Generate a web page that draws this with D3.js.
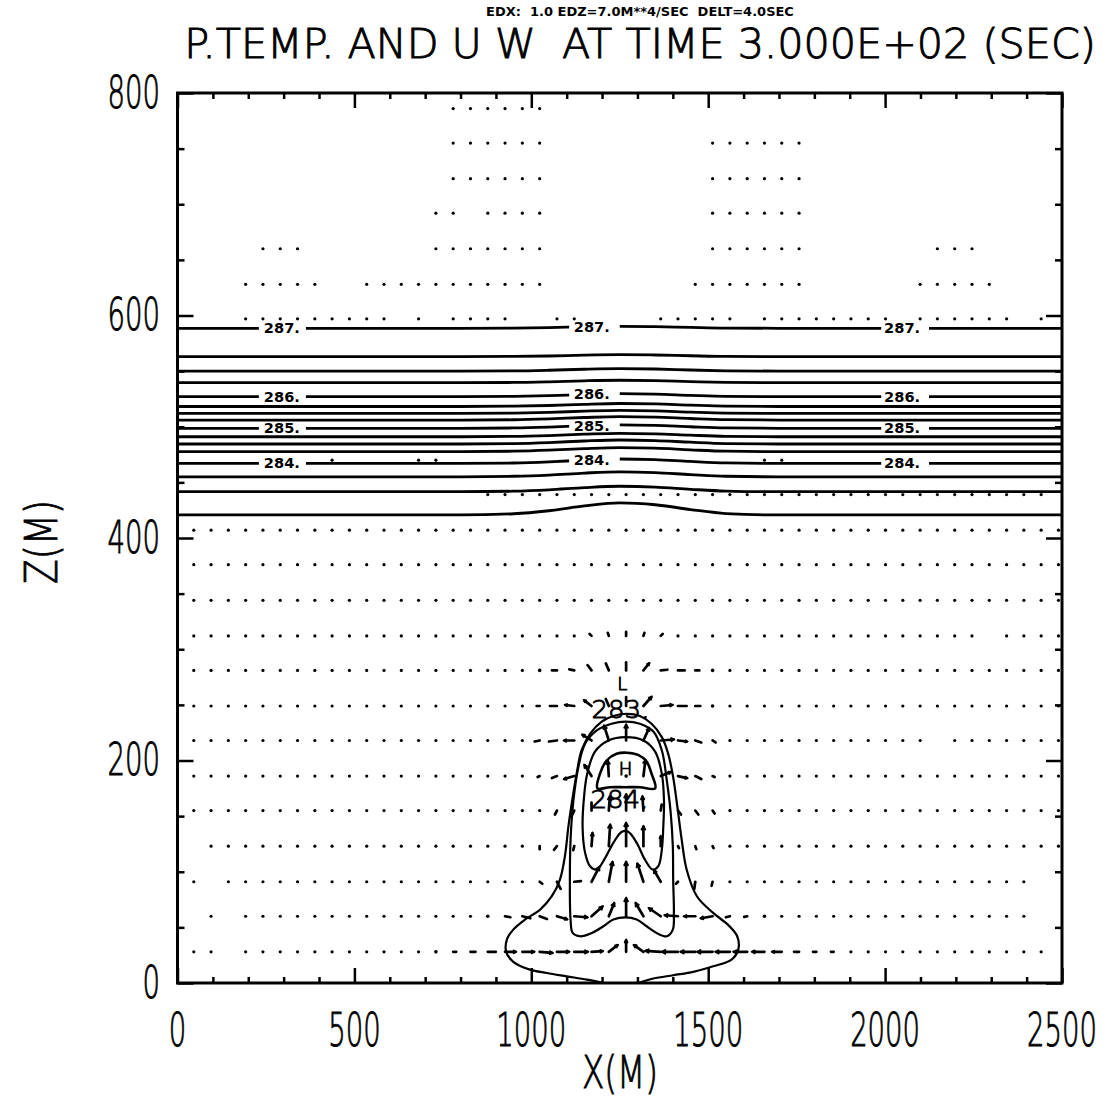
<!DOCTYPE html>
<html>
<head>
<meta charset="utf-8">
<script src="https://cdn.jsdelivr.net/npm/d3@7"></script>
<style>
  html, body { margin: 0; padding: 0; background: #fff; }
  svg { display: block; }
  text { font-family: "DejaVu Sans", sans-serif; fill: #000; white-space: pre; }
  text.stroke-font { font-weight: 300; stroke: #000; stroke-width: 0.9px; }
</style>
</head>
<body>
<svg id="chart" width="1116" height="1099"></svg>
<script>
// ---------------------------------------------------------------
// Potential temperature contours and (u, w) wind vectors, t = 300 s
// ---------------------------------------------------------------

const TITLE = "P.TEMP. AND U W  AT TIME 3.000E+02 (SEC)";
const SUBTITLE = "EDX:  1.0 EDZ=7.0M**4/SEC  DELT=4.0SEC";
const X_LABEL = "X(M)";
const Z_LABEL = "Z(M)";

const xTickLabels = [0, 500, 1000, 1500, 2000, 2500];
const zTickLabels = [0, 200, 400, 600, 800];
const xMinorTicks = [100, 200, 300, 400, 600, 700, 800, 900, 1100, 1200, 1300, 1400,
                     1600, 1700, 1800, 1900, 2100, 2200, 2300, 2400];
const zMinorTicks = [50, 100, 150, 250, 300, 350, 450, 500, 550, 650, 700, 750];

// model grid (m)
const gridX = [46.0, 94.9, 143.8, 192.6, 241.5, 290.4, 339.3, 388.2, 437.0, 485.9,
               534.8, 583.7, 632.6, 681.4, 730.3, 779.2, 828.1, 877.0, 925.8, 974.7,
               1023.6, 1072.5, 1121.4, 1170.2, 1219.1, 1268.0, 1316.9, 1365.8, 1414.6, 1463.5,
               1512.4, 1561.3, 1610.2, 1659.0, 1707.9, 1756.8, 1805.7, 1854.6, 1903.4, 1952.3,
               2001.2, 2050.1, 2099.0, 2147.8, 2196.7, 2245.6, 2294.5, 2343.4, 2392.2, 2441.1,
               2490.0];
const gridZ = [28, 60, 91, 123, 155, 186, 218, 249, 281, 312, 344, 376, 407,
               439, 470, 502, 534, 565, 597, 628, 660, 692, 723, 755, 786];

// rows 0..12: every point plotted except these columns
const missingLow = { 0: [2, 50], 1: [0, 2, 49, 50], 2: [1, 49, 50], 3: [0], 6: [43], 9: [46] };
// rows 13..24: column ranges that carry a (tiny) vector
const presentHigh = {
  13: [[17, 49]],
  14: [[8, 8], [13, 14], [33, 34]],
  18: [[3, 11], [13, 13], [15, 18], [21, 22], [27, 31], [33, 40], [42, 47], [49, 49]],
  19: [[3, 7], [10, 20], [29, 35], [42, 46]],
  20: [[4, 6], [14, 20], [30, 35], [43, 45]],
  21: [[14, 15], [17, 20], [30, 35]],
  22: [[15, 20], [30, 35]],
  23: [[15, 20], [30, 35]],
  24: [[15, 20]]
};

// wind vectors around the thermal: [column, row, u, w]  (cm/s)
const windVectors = [
  // row 0
  [14, 0, 5, 0], [15, 0, 9, 0], [16, 0, 15, 0], [17, 0, 24, 0], [18, 0, 32, 0], [19, 0, 35, 0],
  [20, 0, 38, -3], [21, 0, 36, 0], [22, 0, 40, 0], [23, 0, 33, 2], [24, 0, 26, 20], [25, 0, 0, 35],
  [26, 0, -28, 20], [27, 0, -45, 3], [28, 0, -47, 0], [29, 0, -43, 0], [30, 0, -45, 0],
  [31, 0, -42, 0], [32, 0, -40, 0], [33, 0, -36, 0], [34, 0, -28, 0], [35, 0, -15, 0],
  [36, 0, -10, 0], [37, 0, -8, 0],
  // row 1
  [17, 1, 6, 0], [18, 1, 16, -3], [19, 1, 24, -6], [20, 1, 22, -8], [21, 1, 30, -9], [22, 1, 39, -3],
  [23, 1, 33, 29], [24, 1, 16, 39], [25, 1, 0, 54], [26, 1, -23, 39], [27, 1, -35, 24],
  [28, 1, -39, 3], [29, 1, -33, 0], [30, 1, -35, -6], [31, 1, -12, -3], [32, 1, -9, -2], [33, 1, -5, 0],
  // row 2
  [20, 2, 8, -6], [21, 2, 11, -21], [22, 2, 20, 2], [23, 2, 23, 44], [24, 2, 11, 59], [25, 2, 0, 59],
  [26, 2, -18, 54], [27, 2, -20, 34], [28, 2, -6, -6], [29, 2, -3, -21], [30, 2, -3, -12],
  // row 3
  [20, 3, 0, -9], [21, 3, -9, -11], [22, 3, -3, -12], [23, 3, 3, 39], [24, 3, 4, 64], [25, 3, 0, 69],
  [26, 3, 0, 59], [27, 3, 0, 29], [28, 3, 3, -6], [29, 3, 3, -9], [30, 3, 3, -6],
  // row 4
  [21, 4, -6, -12], [22, 4, -9, -18], [23, 4, 0, 24], [24, 4, 3, 42], [25, 4, 0, 48], [26, 4, -3, 42],
  [27, 4, 3, 18], [28, 4, 9, -12], [29, 4, 9, -12], [30, 4, 6, -9],
  // row 5
  [20, 5, -6, -3], [21, 5, -15, -6], [22, 5, -30, -9], [23, 5, -21, 33], [24, 5, -3, 45], [25, 5, 0, 5],
  [26, 5, 6, 48], [27, 5, 30, 12], [28, 5, 27, -6], [29, 5, 18, -9], [30, 5, 6, -3],
  // row 6
  [20, 6, -15, -3], [21, 6, -24, -3], [22, 6, -30, 0], [23, 6, -27, 17], [24, 6, -14, 44], [25, 6, 0, 47],
  [26, 6, 17, 37], [27, 6, 39, 3], [28, 6, 27, -3], [29, 6, 18, -6], [30, 6, 9, -6],
  // row 7
  [20, 7, -9, 0], [21, 7, -21, 0], [22, 7, -27, 3], [23, 7, -22, 17], [24, 7, -9, 21], [25, 7, 0, 27],
  [26, 7, 24, 27], [27, 7, 35, 3], [28, 7, 26, 0], [29, 7, 15, 0], [30, 7, 6, 0],
  // row 8
  [20, 8, -5, 0], [21, 8, -15, 0], [22, 8, -15, 3], [23, 8, -12, 16], [24, 8, -9, 21], [25, 8, 0, 24],
  [26, 8, 17, 21], [27, 8, 20, 2], [28, 8, 20, 0], [29, 8, 12, 0], [30, 8, 5, 0],
  // row 9
  [23, 9, -6, 6], [24, 9, -3, 9], [25, 9, 0, 12], [26, 9, 3, 9], [27, 9, 6, 6]
];

// horizontal isentropes above 400 m: heights (m) sampled at contourX
const contourX = [0, 800, 950, 1050, 1150, 1250, 1350, 1450, 1550, 1700, 2500];
const isentropes = [
  { level: 287.00, z: [588.5, 588.5, 588.7, 589.1, 589.9, 590.3, 590.0, 589.3, 588.7, 588.5, 588.5] },
  { level: 286.75, z: [563.0, 563.0, 563.2, 563.6, 564.4, 564.8, 564.5, 563.8, 563.2, 563.0, 563.0] },
  { level: 286.50, z: [550.0, 550.0, 550.2, 550.8, 551.7, 552.2, 551.9, 551.0, 550.3, 550.0, 550.0] },
  { level: 286.25, z: [539.6, 539.6, 539.8, 540.4, 541.3, 541.8, 541.5, 540.6, 539.9, 539.6, 539.6] },
  { level: 286.00, z: [527.0, 527.0, 527.3, 527.9, 529.0, 529.7, 529.3, 528.2, 527.3, 527.0, 527.0] },
  { level: 285.75, z: [518.2, 518.2, 518.5, 519.1, 520.2, 520.9, 520.5, 519.4, 518.5, 518.2, 518.2] },
  { level: 285.50, z: [512.0, 512.0, 512.3, 512.9, 514.0, 514.7, 514.3, 513.2, 512.3, 512.0, 512.0] },
  { level: 285.25, z: [506.0, 506.0, 506.3, 507.1, 508.3, 509.1, 508.6, 507.4, 506.4, 506.0, 506.0] },
  { level: 285.00, z: [498.6, 498.6, 498.9, 499.7, 500.9, 501.7, 501.2, 500.0, 499.0, 498.6, 498.6] },
  { level: 284.75, z: [491.0, 491.0, 491.3, 492.1, 493.3, 494.1, 493.6, 492.4, 491.4, 491.0, 491.0] },
  { level: 284.50, z: [484.5, 484.5, 484.9, 485.8, 487.2, 488.1, 487.6, 486.1, 484.9, 484.5, 484.5] },
  { level: 284.25, z: [477.6, 477.6, 478.0, 478.9, 480.3, 481.2, 480.7, 479.2, 478.0, 477.6, 477.6] },
  { level: 284.00, z: [467.0, 467.0, 467.4, 468.4, 470.0, 471.0, 470.4, 468.8, 467.5, 467.0, 467.0] },
  { level: 283.75, z: [455.0, 455.0, 455.5, 456.6, 458.4, 459.5, 458.8, 457.0, 455.5, 455.0, 455.0] },
  { level: 283.50, z: [441.6, 441.6, 442.1, 443.3, 445.3, 446.5, 445.8, 443.8, 442.2, 441.6, 441.6] },
  { level: 283.25, z: [420.7, 420.7, 421.8, 424.5, 428.8, 431.5, 429.9, 425.6, 422.0, 420.7, 420.7] }
];
const isentropeLabels = ["287.", "286.", "285.", "284."];
const labelX = [295, 1171, 2048];
const labelGaps = [[230, 363], [1107, 1250], [1989, 2124]];

// warm thermal: contour polylines (x m, z m)
const thermalOuter = [
  [1204, 0], [1157, 3], [1100, 6], [1044, 9], [996, 12], [949, 19], [929, 28], [931, 39], [949, 48],
  [982, 57], [1025, 66], [1058, 78], [1081, 93], [1095, 114], [1105, 141], [1117, 167], [1128, 188],
  [1142, 209], [1166, 224], [1199, 235], [1232, 240], [1270, 242], [1307, 240], [1340, 233],
  [1369, 221], [1387, 206], [1401, 185], [1413, 158], [1425, 129], [1439, 102], [1468, 78],
  [1514, 63], [1557, 52], [1582, 42], [1585, 30], [1566, 21], [1514, 15], [1458, 10], [1401, 7],
  [1345, 4], [1302, 0]
];
const thermalSecond = [
  [1266, 235], [1307, 233], [1345, 226], [1369, 209], [1383, 182], [1394, 153], [1400, 123],
  [1401, 93], [1403, 63], [1400, 48], [1383, 42], [1354, 45], [1326, 51], [1298, 57], [1266, 59],
  [1232, 57], [1204, 51], [1171, 45], [1138, 42], [1117, 45], [1111, 57], [1109, 93], [1111, 129],
  [1119, 164], [1133, 194], [1152, 215], [1185, 227], [1227, 233]
];
const thermalThird = [
  [1266, 221], [1317, 218], [1350, 208], [1369, 188], [1375, 164], [1373, 140], [1369, 120],
  [1359, 105], [1343, 102], [1321, 111], [1298, 126], [1274, 136], [1256, 136], [1232, 126],
  [1208, 112], [1185, 102], [1166, 105], [1152, 117], [1145, 140], [1149, 167], [1158, 188],
  [1180, 208], [1218, 218]
];
const thermalCore = [
  [1187, 175], [1194, 188], [1213, 200], [1241, 206], [1270, 207], [1302, 205], [1326, 199],
  [1340, 188], [1350, 175], [1307, 176], [1266, 176], [1222, 176]
];
const thermalLabels = [
  { text: "283.", x: 1252, z: 246 },
  { text: "284.", x: 1249, z: 165 }
];
const extremaMarks = [
  { text: "L", x: 1257, z: 269 },
  { text: "H", x: 1266, z: 193 }
];

// ---------------------------------------------------------------
const svg = d3.select("#chart");
const x = d3.scaleLinear().domain([0, 2500]).range([177.5, 1062]);
const z = d3.scaleLinear().domain([0, 800]).range([983, 93]);
const speedPx = d3.scaleLinear().domain([0, 30]).range([0, 10]);

// fit a text to a target width with a real transform,
// so its box matches what is drawn
function squeeze(sel, px, py, width, rotate) {
  sel.each(function (d, i) {
    const node = this;
    const w = node.getComputedTextLength();
    const sx = (typeof width === "function" ? width(d, i) : width) / w;
    const tx = typeof px === "function" ? px(d, i) : px;
    const ty = typeof py === "function" ? py(d, i) : py;
    d3.select(node).attr("x", 0).attr("y", 0)
      .attr("transform", `translate(${tx},${ty})${rotate ? ` rotate(${rotate})` : ""} scale(${sx},1)`);
  });
}

// ---- wind field: tiny vectors drawn as dots, the rest as arrows
const gDots = svg.append("g");
const dotCells = [];
gridZ.forEach((zz, r) => {
  gridX.forEach((xx, c) => {
    let on;
    if (r <= 12) on = !(missingLow[r] || []).includes(c);
    else on = (presentHigh[r] || []).some(([a, b]) => c >= a && c <= b);
    if (on) dotCells.push([c, r]);
  });
});
const vecKey = new Set(windVectors.map(v => v[0] + "_" + v[1]));
gDots.selectAll("circle")
  .data(dotCells.filter(d => !vecKey.has(d[0] + "_" + d[1])))
  .join("circle")
  .attr("cx", d => x(gridX[d[0]]))
  .attr("cy", d => z(gridZ[d[1]]))
  .attr("r", 1.6)
  .attr("fill", "#000");

const gVec = svg.append("g").attr("stroke", "#000").attr("stroke-linecap", "round").attr("fill", "none");
windVectors.forEach(([c, r, u, w]) => {
  const x0 = x(gridX[c]), y0 = z(gridZ[r]);
  const dx = speedPx(u), dy = -speedPx(w);
  const len = Math.hypot(dx, dy);
  if (len < 2.2) {
    gVec.append("circle").attr("cx", x0).attr("cy", y0).attr("r", 1.8).attr("fill", "#000").attr("stroke", "none");
    return;
  }
  const x1 = x0 + dx, y1 = y0 + dy;
  gVec.append("line").attr("x1", x0).attr("y1", y0).attr("x2", x1).attr("y2", y1).attr("stroke-width", 2.7);
  if (len > 9) {
    const ang = Math.atan2(dy, dx), h = Math.min(3.5, 0.22 * len);
    const p = a => [x1 - h * Math.cos(ang + a), y1 - h * Math.sin(ang + a)];
    const [ax, ay] = p(0.55), [bx, by] = p(-0.55);
    gVec.append("path").attr("d", `M${ax},${ay}L${x1},${y1}L${bx},${by}`).attr("stroke-width", 2);
  }
});

// ---- isentropes above the inversion base
const defs = svg.append("defs");
defs.append("clipPath").attr("id", "labelGapClip")
  .selectAll("rect")
  .data([[0, labelGaps[0][0]], [labelGaps[0][1], labelGaps[1][0]],
         [labelGaps[1][1], labelGaps[2][0]], [labelGaps[2][1], 2500]])
  .join("rect")
  .attr("x", d => x(d[0])).attr("width", d => x(d[1]) - x(d[0]))
  .attr("y", 0).attr("height", 1099);

const flatLine = d3.line().x(d => x(d[0])).y(d => z(d[1])).curve(d3.curveMonotoneX);
const gIso = svg.append("g").attr("fill", "none").attr("stroke", "#000").attr("stroke-width", 2.8);
isentropes.forEach(c => {
  const pts = contourX.map((xx, k) => [xx, c.z[k]]);
  const labelled = Number.isInteger(c.level);
  const p = gIso.append("path").attr("d", flatLine(pts));
  if (labelled) {
    p.attr("clip-path", "url(#labelGapClip)");
    const txt = isentropeLabels.find(t => parseFloat(t) === c.level);
    labelX.forEach(lx => {
      const zz = d3.scaleLinear().domain(contourX).range(c.z)(lx);
      svg.append("text")
        .attr("x", x(lx)).attr("y", z(zz))
        .attr("text-anchor", "middle").attr("dominant-baseline", "central")
        .attr("font-size", 14).attr("font-weight", "bold")
        .attr("textLength", 36).attr("lengthAdjust", "spacingAndGlyphs")
        .text(txt);
    });
  }
});

// ---- thermal contours
const openCurve = d3.line().x(d => x(d[0])).y(d => z(d[1])).curve(d3.curveCatmullRom);
const closedCurve = d3.line().x(d => x(d[0])).y(d => z(d[1])).curve(d3.curveCatmullRomClosed);
const gTh = svg.append("g").attr("fill", "none").attr("stroke", "#000").attr("stroke-width", 2.2);
gTh.append("path").attr("d", openCurve(thermalOuter));
gTh.append("path").attr("d", closedCurve(thermalSecond));
gTh.append("path").attr("d", closedCurve(thermalThird));
gTh.append("path").attr("d", closedCurve(thermalCore)).attr("stroke-width", 2.6);

thermalLabels.forEach(l => {
  svg.append("text").attr("class", "stroke-font")
    .attr("x", x(l.x)).attr("y", z(l.z))
    .attr("text-anchor", "middle").attr("dominant-baseline", "central")
    .attr("font-size", 25).attr("textLength", 58).attr("lengthAdjust", "spacingAndGlyphs")
    .text(l.text);
});
extremaMarks.forEach(l => {
  svg.append("text").attr("class", "stroke-font")
    .attr("x", x(l.x)).attr("y", z(l.z))
    .attr("text-anchor", "middle").attr("dominant-baseline", "central")
    .attr("font-size", 18)
    .text(l.text);
});

// ---- frame and inward ticks
svg.append("rect")
  .attr("x", x(0)).attr("y", z(800))
  .attr("width", x(2500) - x(0)).attr("height", z(0) - z(800))
  .attr("fill", "none").attr("stroke", "#000").attr("stroke-width", 3);

function tickSet(axis, values, size, transform) {
  const g = svg.append("g").attr("transform", transform)
    .call(axis.tickValues(values).tickSize(size).tickFormat(""));
  g.select(".domain").remove();
  g.selectAll("line").attr("stroke", "#000").attr("stroke-width", 2.5);
}
tickSet(d3.axisTop(x), xMinorTicks, 6, `translate(0,${z(0)})`);
tickSet(d3.axisTop(x), xTickLabels, 15, `translate(0,${z(0)})`);
tickSet(d3.axisBottom(x), xMinorTicks, 6, `translate(0,${z(800)})`);
tickSet(d3.axisBottom(x), xTickLabels, 15, `translate(0,${z(800)})`);
tickSet(d3.axisRight(z), zMinorTicks, 7, `translate(${x(0)},0)`);
tickSet(d3.axisRight(z), zTickLabels, 16, `translate(${x(0)},0)`);
tickSet(d3.axisLeft(z), zMinorTicks, 7, `translate(${x(2500)},0)`);
tickSet(d3.axisLeft(z), zTickLabels, 16, `translate(${x(2500)},0)`);

// ---- tick labels
const zLab = svg.append("g").selectAll("text").data(zTickLabels).join("text")
  .attr("class", "stroke-font")
  .attr("text-anchor", "end").attr("dominant-baseline", "central")
  .attr("font-size", 44)
  .text(d => d);
squeeze(zLab, 160, d => z(d), d => String(d).length * 17.5);

const xLab = svg.append("g").selectAll("text").data(xTickLabels).join("text")
  .attr("class", "stroke-font")
  .attr("text-anchor", "middle").attr("dominant-baseline", "central")
  .attr("font-size", 46)
  .text(d => d);
squeeze(xLab, d => x(d), 1030, d => String(d).length * 17.5);

// ---- titles
const title = svg.append("text").attr("class", "stroke-font")
  .attr("text-anchor", "middle").attr("dominant-baseline", "central")
  .attr("font-size", 40)
  .text(TITLE);
squeeze(title, 640, 44, 912);

const subtitle = svg.append("text")
  .attr("text-anchor", "middle").attr("dominant-baseline", "central")
  .attr("font-size", 12).attr("font-weight", "bold")
  .text(SUBTITLE);
squeeze(subtitle, 640, 12, 308);

const xTitle = svg.append("text").attr("class", "stroke-font")
  .attr("text-anchor", "middle").attr("dominant-baseline", "central")
  .attr("font-size", 44)
  .text(X_LABEL);
squeeze(xTitle, 620, 1073, 76);

const zTitle = svg.append("text").attr("class", "stroke-font")
  .attr("text-anchor", "middle").attr("dominant-baseline", "central")
  .attr("font-size", 44)
  .text(Z_LABEL);
squeeze(zTitle, 42, 542, 84, -90);
</script>
</body>
</html>
